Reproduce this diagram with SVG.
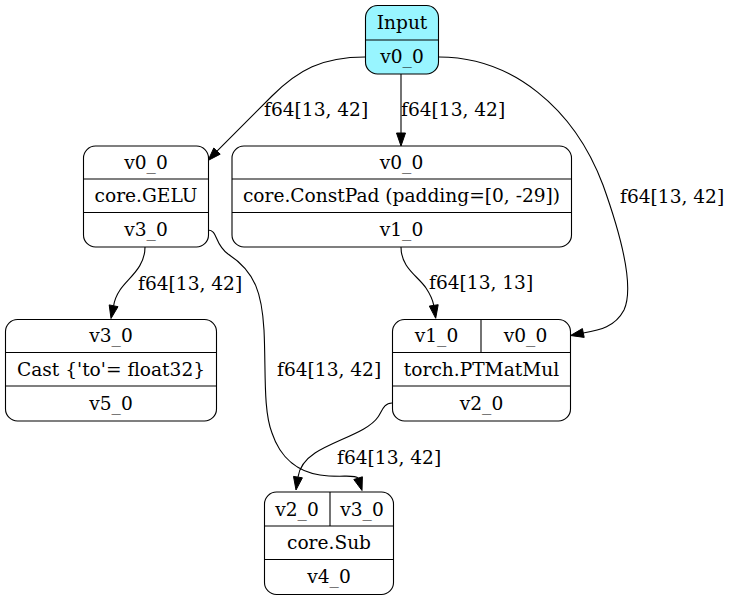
<svg xmlns="http://www.w3.org/2000/svg" width="731" height="601" viewBox="0 0 731 601">
  <style>
    text { font-family: "DejaVu Serif", "Liberation Serif", serif; font-size: 18.6px; fill: #000; }
    .c { text-anchor: middle; }
    .box { fill: #fff; stroke: #000; stroke-width: 1.1; }
    .in { fill: #98f5ff; }
    .sep { stroke: #000; stroke-width: 1.1; fill: none; }
    .edge { fill: none; stroke: #000; stroke-width: 1.1; }
    .head { fill: #000; stroke: #000; stroke-width: 1; }
  </style>
  <rect width="731" height="601" fill="#fff"/>

  <g id="edges">
    <!-- Input -> GELU -->
    <path class="edge" d="M365,57 C322,57 298,70 272,96 C256,112 237,131 217,151.1"/>
    <polygon class="head" points="220.2,154.2 208,160.5 213.8,148.0"/>
    <text x="264" y="116">f64[13, 42]</text>
    <!-- Input -> ConstPad -->
    <path class="edge" d="M401,74 L401,133"/>
    <polygon class="head" points="396.5,133 401,146 405.5,133"/>
    <text x="401" y="116">f64[13, 42]</text>
    <!-- Input -> PTMatMul (rhs) -->
    <path class="edge" d="M439,57 C512,57 574,108 603,185 C622,238 634,288 624,310 C615,327 600,330 583.3,333"/>
    <polygon class="head" points="582.4,328.6 570.5,335.5 584.2,337.4"/>
    <text x="620" y="203">f64[13, 42]</text>
    <!-- GELU -> Cast -->
    <path class="edge" d="M145,247 C145,268 128,278 120,290 C116,296 114.5,300 113.6,305.8"/>
    <polygon class="head" points="118,306.7 111,318.5 109.2,304.9"/>
    <text x="138" y="290">f64[13, 42]</text>
    <!-- GELU -> Sub (rhs) -->
    <path class="edge" d="M208,230 C218,230 214,244 228,254 C256,272 262,295 264,330 C266,370 263,410 272,433 C281,460 300,472 320,475 C340,478 355,474 358.1,478.1"/>
    <polygon class="head" points="362.4,476.8 362,490.5 353.8,479.5"/>
    <text x="277" y="376">f64[13, 42]</text>
    <!-- ConstPad -> PTMatMul (lhs) -->
    <path class="edge" d="M401,247 C401,268 418,276 426,288 C430,294 432.5,299 433.8,305.4"/>
    <polygon class="head" points="438.2,304.7 435.7,318.3 429.3,306.1"/>
    <text x="429" y="289">f64[13, 13]</text>
    <!-- PTMatMul -> Sub (lhs) -->
    <path class="edge" d="M392,403 C384,403 382,411 378,417 C368,432 335,440 315,453 C303,461 299,470 298,477.1"/>
    <polygon class="head" points="302.4,477.8 296,490 293.5,476.4"/>
    <text x="337" y="464">f64[13, 42]</text>
  </g>

  <g id="input">
    <rect class="box in" x="365.5" y="5.5" width="73" height="68.5" rx="12"/>
    <line class="sep" x1="365.5" y1="40" x2="438.5" y2="40"/>
    <text class="c" x="402" y="29">Input</text>
    <text class="c" x="402" y="63">v0_0</text>
  </g>

  <g id="gelu">
    <rect class="box" x="83.5" y="146" width="125" height="101" rx="12"/>
    <line class="sep" x1="83.5" y1="179" x2="208.5" y2="179"/>
    <line class="sep" x1="83.5" y1="212.5" x2="208.5" y2="212.5"/>
    <text class="c" x="146" y="169">v0_0</text>
    <text class="c" x="146" y="202">core.GELU</text>
    <text class="c" x="146" y="236">v3_0</text>
  </g>

  <g id="constpad">
    <rect class="box" x="232" y="146" width="339.5" height="101" rx="12"/>
    <line class="sep" x1="232" y1="179" x2="571.5" y2="179"/>
    <line class="sep" x1="232" y1="212.5" x2="571.5" y2="212.5"/>
    <text class="c" x="401.5" y="169">v0_0</text>
    <text class="c" x="401.5" y="202">core.ConstPad (padding=[0, -29])</text>
    <text class="c" x="401.5" y="236">v1_0</text>
  </g>

  <g id="cast">
    <rect class="box" x="5.5" y="319.5" width="211" height="101.5" rx="12"/>
    <line class="sep" x1="5.5" y1="352.5" x2="216.5" y2="352.5"/>
    <line class="sep" x1="5.5" y1="386" x2="216.5" y2="386"/>
    <text class="c" x="111" y="342">v3_0</text>
    <text class="c" x="111" y="375.5">Cast {'to'= float32}</text>
    <text class="c" x="111" y="410">v5_0</text>
  </g>

  <g id="ptmatmul">
    <rect class="box" x="392.5" y="319.5" width="178" height="101.5" rx="12"/>
    <line class="sep" x1="392.5" y1="352.5" x2="570.5" y2="352.5"/>
    <line class="sep" x1="392.5" y1="386" x2="570.5" y2="386"/>
    <line class="sep" x1="481" y1="319.5" x2="481" y2="352.5"/>
    <text class="c" x="436.5" y="342">v1_0</text>
    <text class="c" x="525.5" y="342">v0_0</text>
    <text class="c" x="481.5" y="375.5">torch.PTMatMul</text>
    <text class="c" x="481.5" y="410">v2_0</text>
  </g>

  <g id="sub">
    <rect class="box" x="264.5" y="492" width="129" height="102.5" rx="12"/>
    <line class="sep" x1="264.5" y1="526" x2="393.5" y2="526"/>
    <line class="sep" x1="264.5" y1="559.5" x2="393.5" y2="559.5"/>
    <line class="sep" x1="330" y1="492" x2="330" y2="526"/>
    <text class="c" x="297" y="515.5">v2_0</text>
    <text class="c" x="362" y="515.5">v3_0</text>
    <text class="c" x="329" y="549">core.Sub</text>
    <text class="c" x="329" y="583">v4_0</text>
  </g>
</svg>
